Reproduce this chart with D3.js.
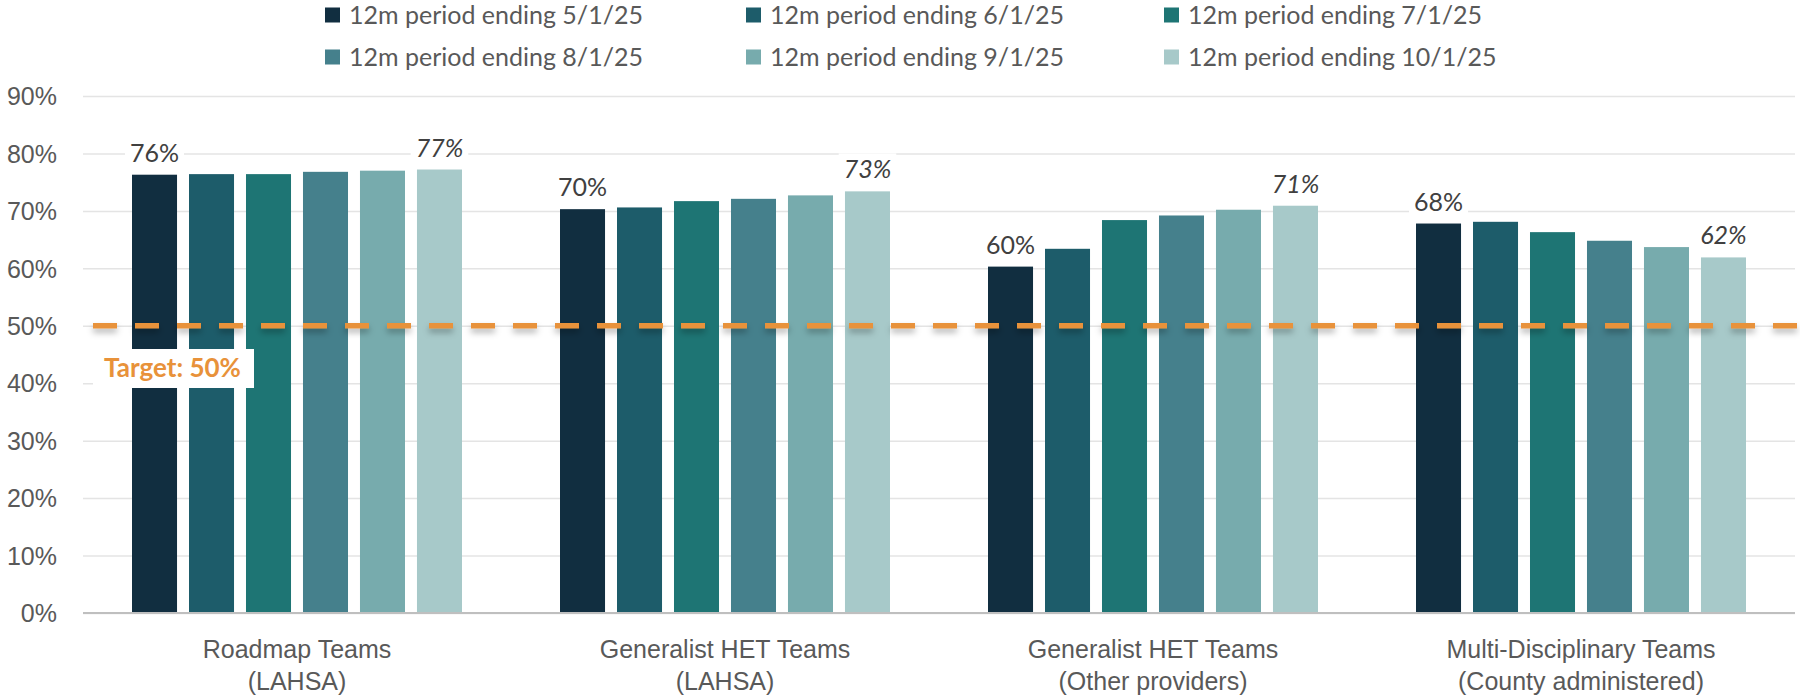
<!DOCTYPE html>
<html>
<head>
<meta charset="utf-8">
<script src="https://cdn.jsdelivr.net/npm/d3@7"></script>
<style>
  body { margin: 0; background: #fff; }
  svg { font-family: Lato, "Source Sans Pro", sans-serif; }
</style>
</head>
<body>
<svg id="canvas"></svg>
<script>
let width = 1800;
let height = 700;

// chart data
let categories = [
    ['Roadmap Teams', '(LAHSA)'],
    ['Generalist HET Teams', '(LAHSA)'],
    ['Generalist HET Teams', '(Other providers)'],
    ['Multi-Disciplinary Teams', '(County administered)']
];
let seriesNames = [
    '12m period ending 5/1/25',
    '12m period ending 6/1/25',
    '12m period ending 7/1/25',
    '12m period ending 8/1/25',
    '12m period ending 9/1/25',
    '12m period ending 10/1/25'
];
let roadmap = [76.3, 76.4, 76.4, 76.8, 77.0, 77.2];
let generalistLahsa = [70.3, 70.6, 71.7, 72.1, 72.7, 73.4];
let generalistOther = [60.3, 63.4, 68.4, 69.2, 70.2, 70.9];
let multiDisciplinary = [67.8, 68.1, 66.3, 64.8, 63.7, 61.9];
let seriesValues = [roadmap, generalistLahsa, generalistOther, multiDisciplinary];
let yTicks = [0, 10, 20, 30, 40, 50, 60, 70, 80, 90];
let target = 50;

let colors = ['#112e40', '#1d5c6a', '#1e7574', '#45808c', '#77abad', '#a7c9c9'];

let svg = d3.select('#canvas').attr('width', width).attr('height', height);

let plotLeft = 83, plotRight = 1795, plotTop = 96, plotBottom = 613;

let yScale = d3.scaleLinear().domain([0, 90]).range([plotBottom, plotTop]);

let x0 = d3.scaleBand()
    .domain(d3.range(categories.length))
    .range([plotLeft, plotRight])
    .paddingInner(0.229)
    .paddingOuter(0.1145);

let x1 = d3.scaleBand()
    .domain(d3.range(seriesNames.length))
    .range([0, x0.bandwidth()])
    .paddingInner(0.21);

/*gridlines and y labels*/
let yAxis = d3.axisLeft(yScale)
    .tickValues(yTicks)
    .tickSize(-(plotRight - plotLeft))
    .tickPadding(26)
    .tickFormat(d => d + '%');

let gy = svg.append('g')
    .attr('transform', 'translate(' + plotLeft + ',0)')
    .call(yAxis);
gy.select('.domain').remove();
gy.selectAll('.tick line').attr('stroke', '#e4e4e4').attr('stroke-width', 1.5);
gy.selectAll('.tick text')
    .attr('fill', '#595959')
    .style('font-size', '25px')
    .attr('dy', '0.35em');

/*bars*/
let groups = svg.selectAll('g.group')
    .data(seriesValues)
    .enter()
    .append('g')
    .attr('class', 'group')
    .attr('transform', (d, i) => 'translate(' + x0(i) + ',0)');

groups.selectAll('rect')
    .data(d => d)
    .enter()
    .append('rect')
    .attr('x', (d, i) => x1(i))
    .attr('y', d => yScale(d))
    .attr('width', x1.bandwidth())
    .attr('height', d => plotBottom - yScale(d))
    .attr('fill', (d, i) => colors[i]);

/*baseline*/
svg.append('line')
    .attr('x1', plotLeft).attr('x2', plotRight)
    .attr('y1', yScale(0)).attr('y2', yScale(0))
    .attr('stroke', '#bfbfbf')
    .attr('stroke-width', 2);

/*x labels*/
let xAxis = d3.axisBottom(x0).tickSize(0).tickFormat('');
let gx = svg.append('g')
    .attr('transform', 'translate(0,' + plotBottom + ')')
    .call(xAxis);
gx.select('.domain').remove();
gx.selectAll('.tick').each(function(d) {
    let t = d3.select(this).append('text')
        .attr('fill', '#595959')
        .attr('text-anchor', 'middle')
        .style('font-size', '25px');
    t.append('tspan').attr('x', 0).attr('y', 45).text(categories[d][0]);
    t.append('tspan').attr('x', 0).attr('y', 77).text(categories[d][1]);
});

/*target line with soft shadow - a horizontal line has no height, so the filter region is in user space*/
let defs = svg.append('defs');
let f = defs.append('filter').attr('id', 'shadow')
    .attr('filterUnits', 'userSpaceOnUse')
    .attr('x', 0).attr('y', yScale(target) - 20)
    .attr('width', width).attr('height', 40);
f.append('feDropShadow')
    .attr('dx', 0).attr('dy', 4).attr('stdDeviation', 3)
    .attr('flood-color', '#000').attr('flood-opacity', 0.3);

svg.append('line')
    .attr('x1', 93).attr('x2', width)
    .attr('y1', yScale(target)).attr('y2', yScale(target))
    .attr('stroke', '#e8923a')
    .attr('stroke-width', 5.5)
    .attr('stroke-dasharray', '24 18')
    .attr('filter', 'url(#shadow)');

/*value labels on first and last bars*/
let labelG = svg.append('g');
seriesValues.forEach((vals, gi) => {
    [0, vals.length - 1].forEach(si => {
        let cx = x0(gi) + x1(si) + x1.bandwidth() / 2;
        let g = labelG.append('g');
        let t = g.append('text')
            .attr('x', cx)
            .attr('y', yScale(vals[si]) - 13)
            .attr('text-anchor', 'middle')
            .attr('fill', '#404040')
            .style('font-size', '25px')
            .style('font-style', si === 0 ? 'normal' : 'italic')
            .text(Math.round(vals[si]) + '%');
        let b = t.node().getBBox();
        g.insert('rect', 'text')
            .attr('x', b.x - 5).attr('y', b.y)
            .attr('width', b.width + 10).attr('height', b.height)
            .attr('fill', '#fff');
    });
});

/*target label*/
let tg = svg.append('g');
tg.append('rect')
    .attr('x', 93).attr('y', 349)
    .attr('width', 161).attr('height', 39)
    .attr('fill', '#fff');
tg.append('text')
    .attr('x', 104)
    .attr('y', 377)
    .attr('fill', '#e8923a')
    .style('font-size', '26px')
    .style('font-weight', 'bold')
    .text('Target: ' + target + '%');

/*legend*/
let legendX = [325, 746, 1164];
let legendY = [15, 57];
let legend = svg.selectAll('g.legend')
    .data(seriesNames)
    .enter()
    .append('g')
    .attr('class', 'legend')
    .attr('transform', (d, i) => 'translate(' + legendX[i % 3] + ',' + legendY[Math.floor(i / 3)] + ')');
legend.append('rect')
    .attr('x', 0).attr('y', -7.5)
    .attr('width', 15).attr('height', 15)
    .attr('fill', (d, i) => colors[i]);
legend.append('text')
    .attr('x', 24).attr('y', 0)
    .attr('dy', '0.35em')
    .attr('fill', '#595959')
    .style('font-size', '25px')
    .text(d => d);
</script>
</body>
</html>
